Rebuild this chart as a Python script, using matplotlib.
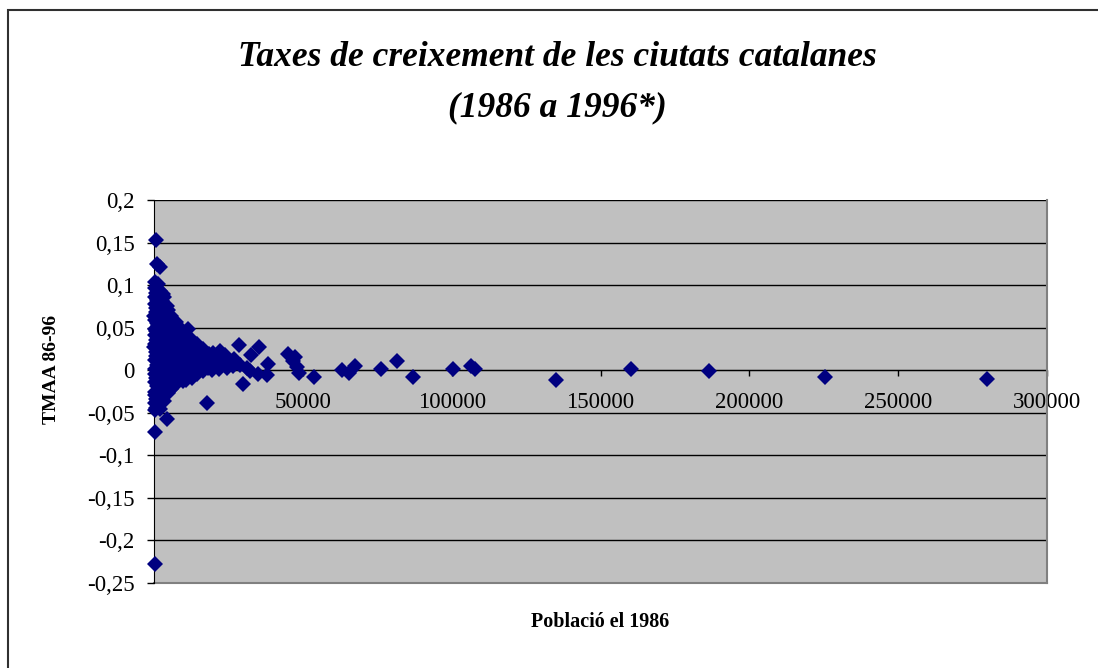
import matplotlib
matplotlib.use("Agg")
import matplotlib.pyplot as plt
from matplotlib.ticker import FuncFormatter
from matplotlib.patches import Rectangle

plt.rcParams['font.family'] = ['Liberation Serif', 'DejaVu Serif']

titol_1 = "Taxes de creixement de les ciutats catalanes"
titol_2 = "(1986 a 1996*)"
etiqueta_x = "Població el 1986"
etiqueta_y = "TMAA 86-96"

x_ticks = [0, 50000, 100000, 150000, 200000, 250000, 300000]
y_ticks = [-0.25, -0.2, -0.15, -0.1, -0.05, 0, 0.05, 0.1, 0.15, 0.2]

# municipis petits (nuvol de punts a prop de zero)
pob_petits = [
    420, 180, 650, 310, 890, 250, 540, 760, 130, 470, 980, 360, 610, 220, 820, 390,
    150, 700, 510, 280, 930, 440, 170, 590, 330, 860, 210, 480, 740, 380, 560, 260,
    1450, 1900, 1200, 2100, 1650, 1320, 1980, 1550, 1760, 1240, 2050, 1480, 1820, 1360, 1700,
    2150, 1280, 1600, 1930, 1410, 1850, 1520, 2080, 1300, 1720, 1950, 1390, 1680, 1220, 1880,
    2900, 3300, 2650, 3500, 3050, 2750, 3400, 2980, 3200, 2700, 3550, 3100, 2850, 3350,
    2600, 3250, 3000, 2800, 3450, 3150, 2680, 3380, 2920, 3050, 3500, 2770, 3220,
    4300, 4700, 4100, 4900, 4450, 4200, 4800, 4550, 4050, 4650, 4350,
    4950, 4250, 4600, 4150, 4750, 4400, 4850, 4500, 4180, 4680,
    5800, 6300, 5600, 6500, 6000, 5700, 6400, 5900, 6200,
    5550, 6100, 6450, 5750, 6250, 5650, 6050, 6350, 5850,
    7300, 7900, 7100, 8100, 7600, 7200, 7800, 7450, 8000, 7050, 7700, 7350, 7950, 7500, 7150,
    8900, 9500, 8700, 9700, 9200, 8800, 9600, 9000, 9400, 8650, 9300, 9100, 9750,
    11400, 10400, 11000, 10700, 11300, 10300, 10900, 11200, 10600, 11100, 10500, 10800,
    12400, 12900, 12100, 13100, 12600, 12200, 13000, 12700, 12300, 12800,
    14300, 14900, 14100, 15100, 14600, 14200, 14800, 14500,
    16300, 16900, 16100, 17100, 16600, 16400,
    18400, 19200, 18900, 18200, 19400,
    700, 900, 2000, 200, 4400, 17800, 300,
]
tmaa_petits = [
    0.104, 0.097, 0.091, 0.086, 0.082, 0.078, 0.073, 0.068, 0.064, 0.059, 0.055, 0.049, 0.046, 0.041, 0.036, 0.031,
    0.027, 0.021, 0.017, 0.012, 0.006, 0.002, -0.004, -0.009, -0.014, -0.019, -0.026, -0.029, -0.034, -0.039, -0.044, -0.047,
    0.101, 0.093, 0.088, 0.083, 0.079, 0.072, 0.067, 0.062, 0.058, 0.053, 0.048, 0.043, 0.039, 0.034, 0.029,
    0.024, 0.019, 0.014, 0.009, 0.004, -0.001, -0.006, -0.011, -0.016, -0.021, -0.027, -0.031, -0.036, -0.041, -0.045,
    0.090, 0.086, 0.081, 0.076, 0.071, 0.066, 0.061, 0.056, 0.051, 0.046, 0.041, 0.037, 0.032, 0.027,
    0.022, 0.018, 0.013, 0.008, 0.003, -0.002, -0.007, -0.012, -0.018, -0.023, -0.028, -0.031, -0.036,
    0.076, 0.071, 0.064, 0.059, 0.056, 0.049, 0.044, 0.041, 0.034, 0.031, 0.024,
    0.019, 0.016, 0.009, 0.004, 0.001, -0.006, -0.011, -0.015, -0.021, -0.027,
    0.064, 0.059, 0.053, 0.048, 0.043, 0.038, 0.033, 0.028, 0.023,
    0.018, 0.013, 0.008, 0.003, -0.002, -0.007, -0.012, -0.017, -0.022,
    0.057, 0.051, 0.046, 0.041, 0.036, 0.031, 0.026, 0.021, 0.016, 0.011, 0.006, 0.001, -0.004, -0.010, -0.017,
    0.050, 0.045, 0.040, 0.035, 0.030, 0.025, 0.020, 0.015, 0.010, 0.005, 0.000, -0.006, -0.013,
    0.048, 0.043, 0.038, 0.032, 0.027, 0.022, 0.016, 0.011, 0.005, 0.000, -0.006, -0.012,
    0.037, 0.032, 0.027, 0.022, 0.017, 0.012, 0.006, 0.001, -0.004, -0.009,
    0.031, 0.026, 0.020, 0.015, 0.009, 0.004, -0.001, -0.005,
    0.025, 0.019, 0.013, 0.008, 0.003, -0.001,
    0.019, 0.013, 0.008, 0.003, 0.000,
    0.153, 0.125, 0.121, -0.072, -0.057, -0.038, -0.228,
]

# ciutats mitjanes (20000 - 50000 hab.)
pob_mitjans = [19800, 22200, 20500, 23200, 25500, 26500, 28900, 31200, 32200, 22000,
               24500, 17800, 28600, 35300, 32600, 29900, 38300, 34900, 38000, 45000,
               46700, 48000, 48600, 47400, 21000, 27000, 24000]
tmaa_mitjans = [0.020, 0.022, 0.011, 0.012, 0.010, 0.005, 0.006, 0.003, -0.001, 0.001,
                0.003, 0.014, 0.030, 0.027, 0.018, -0.016, 0.007, -0.004, -0.006, 0.019,
                0.011, 0.004, -0.003, 0.015, 0.016, 0.013, 0.018]

# ciutats grans
pob_grans = [53700, 63000, 65600, 67500, 76200, 81600, 86900, 100400, 106400, 107800,
             135000, 160200, 186400, 225400, 279800]
tmaa_grans = [-0.008, 0.000, -0.003, 0.005, 0.001, 0.011, -0.008, 0.001, 0.005, 0.001,
              -0.011, 0.001, -0.001, -0.008, -0.010]

fig = plt.figure(figsize=(10.98, 6.68), dpi=100)
ax = fig.add_axes([154 / 1098, 1 - 583 / 668, (1047 - 154) / 1098, (583 - 200) / 668])
ax.set_facecolor('#C0C0C0')

for y in y_ticks[1:]:
    ax.axhline(y, color='black', lw=1.0, zorder=1)
ax.axhline(-0.25, color='#808080', lw=1.5, zorder=1, clip_on=False)

color_punt = '#000080'
for pob, tmaa in [(pob_petits, tmaa_petits), (pob_mitjans, tmaa_mitjans), (pob_grans, tmaa_grans)]:
    ax.plot(pob, tmaa, linestyle='none', marker='D', ms=8.4, mfc=color_punt, mec=color_punt,
            mew=0, zorder=3, clip_on=False)

ax.set_xlim(0, 300000)
ax.set_ylim(-0.25, 0.2)
ax.set_xticks(x_ticks)
ax.set_yticks(y_ticks)
ax.yaxis.set_major_formatter(FuncFormatter(lambda v, _: ('%g' % v).replace('.', ',')))
ax.xaxis.set_major_formatter(FuncFormatter(lambda v, _: '%d' % v))

ax.spines['top'].set_visible(False)
ax.spines['right'].set_color('#808080')
ax.spines['right'].set_linewidth(1.5)
ax.spines['left'].set_color('black')
ax.spines['bottom'].set_position(('data', 0))
ax.spines['bottom'].set_color('black')
ax.spines['bottom'].set_zorder(2)

ax.tick_params(axis='y', direction='out', length=5, width=1, pad=9, labelsize=16.5)
ax.tick_params(axis='x', direction='out', length=4.5, width=1, pad=11, labelsize=16.5)

fig.text(557 / 1098, 1 - 57 / 668, titol_1, ha='center', va='center', fontsize=25.5,
         fontweight='bold', fontstyle='italic')
fig.text(557 / 1098, 1 - 108 / 668, titol_2, ha='center', va='center', fontsize=25.5,
         fontweight='bold', fontstyle='italic')
fig.text(51 / 1098, 1 - 369 / 668, etiqueta_y, rotation=90, ha='center', va='center',
         fontsize=14, fontweight='bold')
fig.text(600 / 1098, 1 - 622 / 668, etiqueta_x, ha='center', va='center',
         fontsize=14.5, fontweight='bold')

fig.patches.append(Rectangle((8 / 1098, -0.1), 1.2, 1.1 - 10 / 668, transform=fig.transFigure,
                             fill=False, edgecolor='#303030', lw=1.5, clip_on=False))

fig.savefig('out.png', dpi=100)
